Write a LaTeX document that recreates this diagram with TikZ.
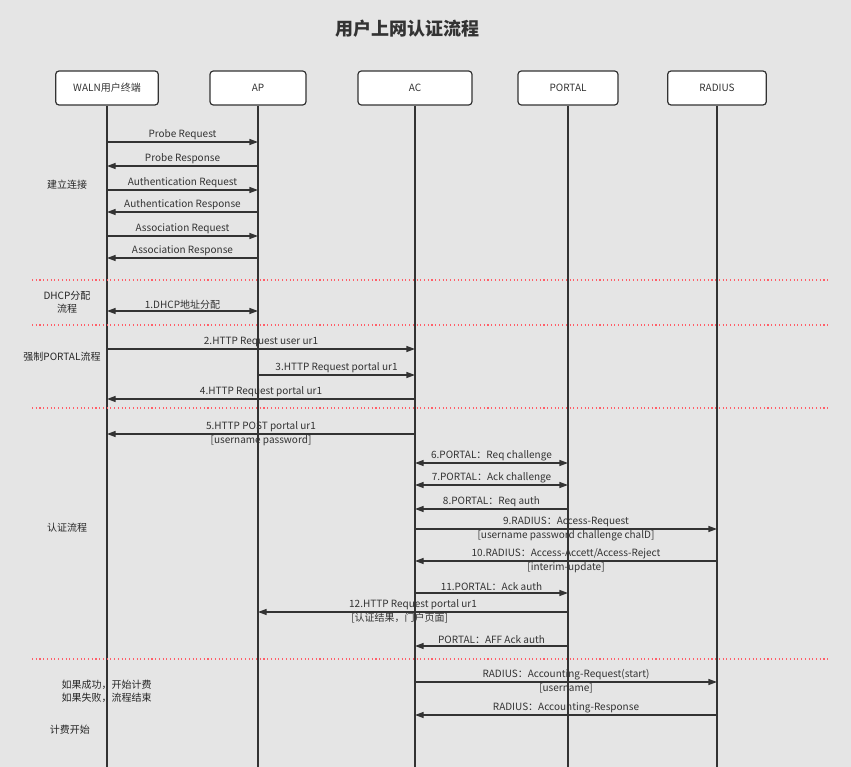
\documentclass[tikz,border=0pt]{standalone}
\usepackage{fontspec}
\setmainfont{Noto Sans CJK SC}
\usetikzlibrary{arrows.meta, positioning}
\definecolor{bgcolor}{RGB}{229,229,229}
\definecolor{inkcolor}{RGB}{51,51,51}
\definecolor{sepcolor}{RGB}{255,95,105}

\begin{document}
\begin{tikzpicture}[
    x=0.75pt, y=-0.75pt,
    >={Triangle[length=6.5pt, width=4.5pt]},
    actor/.style={draw=inkcolor, line width=0.9pt, rounded corners=2.5pt, fill=white, minimum height=25.5pt, text=inkcolor, font=\fontsize{7.5}{9}\selectfont},
    life/.style={inkcolor, line width=1pt},
    msg/.style={inkcolor, line width=1pt},
    lbl/.style={text=inkcolor, font=\fontsize{7.5}{9}\selectfont, inner sep=1pt},
    sub/.style={text=inkcolor, font=\fontsize{7.5}{9}\selectfont, inner sep=0.5pt},
    phase/.style={text=black!85, font=\fontsize{7.5}{9.8}\selectfont, align=center},
    sep/.style={sepcolor, dotted, line width=0.8pt},
]
    \fill[bgcolor] (0,0) rectangle (851,767);
    \useasboundingbox (0,0) rectangle (851,767);

    \node[font=\fontsize{13.5}{16}\selectfont\bfseries, text=inkcolor] (title) at (407,29) {用户上网认证流程};

    % participants
    \node[actor, minimum width=77pt] (waln) at (107,88) {WALN用户终端};
    \node[actor, minimum width=72pt] (ap) at (258,88) {AP};
    \node[actor, minimum width=85.5pt] (ac) at (415,88) {AC};
    \node[actor, minimum width=75pt] (portal) at (568,88) {PORTAL};
    \node[actor, minimum width=74pt] (radius) at (717,88) {RADIUS};

    \foreach \p in {waln, ap, ac, portal, radius}
        \draw[life] (\p) -- (\p |- 0,767);

    % phase separators
    \foreach \s in {280, 325, 408, 659}
        \draw[sep] (32,\s) -- (830,\s);

    % phase labels
    \node[phase] (conn) at (67,185) {建立连接};
    \node[phase] (dhcp) at (67,302) {DHCP分配\\流程};
    \node[phase] (force) at (62,357) {强制PORTAL流程};
    \node[phase] (auth) at (67,528) {认证流程};
    \node[phase, align=left, anchor=west] (result) at (57,691) {如果成功，开始计费\\如果失败，流程结束};
    \node[phase] (bill) at (70,730) {计费开始};

    % association
    \draw[msg, ->] (waln |- 0,142) -- node[lbl, above] {Probe Request} (ap |- 0,142);
    \draw[msg, ->] (ap |- 0,166) -- node[lbl, above] {Probe Response} (waln |- 0,166);
    \draw[msg, ->] (waln |- 0,190) -- node[lbl, above] {Authentication Request} (ap |- 0,190);
    \draw[msg, ->] (ap |- 0,212) -- node[lbl, above] {Authentication Response} (waln |- 0,212);
    \draw[msg, ->] (waln |- 0,236) -- node[lbl, above] {Association Request} (ap |- 0,236);
    \draw[msg, ->] (ap |- 0,258) -- node[lbl, above] {Association Response} (waln |- 0,258);

    % dhcp
    \draw[msg, <->] (waln |- 0,311) -- node[lbl, above] {1.DHCP地址分配} (ap |- 0,311);

    % portal redirect
    \draw[msg, ->] (waln |- 0,349) -- node[lbl, above] {2.HTTP Request user ur1} (ac |- 0,349);
    \draw[msg, ->] (ap |- 0,375) -- node[lbl, above] {3.HTTP Request portal ur1} (ac |- 0,375);
    \draw[msg, ->] (ac |- 0,399) -- node[lbl, above] {4.HTTP Request portal ur1} (waln |- 0,399);

    % authentication
    \draw[msg, ->] (ac |- 0,434) -- node[lbl, above] {5.HTTP POST portal ur1}
        node[sub, below] {[username password]} (waln |- 0,434);
    \draw[msg, <->] (ac |- 0,463) -- node[lbl, above] {6.PORTAL：Req challenge} (portal |- 0,463);
    \draw[msg, <->] (ac |- 0,485) -- node[lbl, above] {7.PORTAL：Ack challenge} (portal |- 0,485);
    \draw[msg, ->] (portal |- 0,509) -- node[lbl, above] {8.PORTAL：Req auth} (ac |- 0,509);
    \draw[msg, ->] (ac |- 0,529) -- node[lbl, above] {9.RADIUS：Access-Request}
        node[sub, below] {[username password challenge chalD]} (radius |- 0,529);
    \draw[msg, ->] (radius |- 0,561) -- node[lbl, above] {10.RADIUS：Access-Accett/Access-Reject}
        node[sub, below] {[interim-update]} (ac |- 0,561);
    \draw[msg, ->] (ac |- 0,593) -- node[lbl, above] {11.PORTAL：Ack auth} (portal |- 0,593);
    \draw[msg, ->] (portal |- 0,612) -- node[lbl, above] {12.HTTP Request portal ur1}
        node[sub, below, xshift=-10pt] {[认证结果，门户页面]} (ap |- 0,612);
    \draw[msg, ->] (portal |- 0,646) -- node[lbl, above] {PORTAL：AFF Ack auth} (ac |- 0,646);

    % accounting
    \draw[msg, ->] (ac |- 0,682) -- node[lbl, above] {RADIUS：Accounting-Request(start)}
        node[sub, below] {[username]} (radius |- 0,682);
    \draw[msg, ->] (radius |- 0,715) -- node[lbl, above] {RADIUS：Accounting-Response} (ac |- 0,715);
\end{tikzpicture}
\end{document}
